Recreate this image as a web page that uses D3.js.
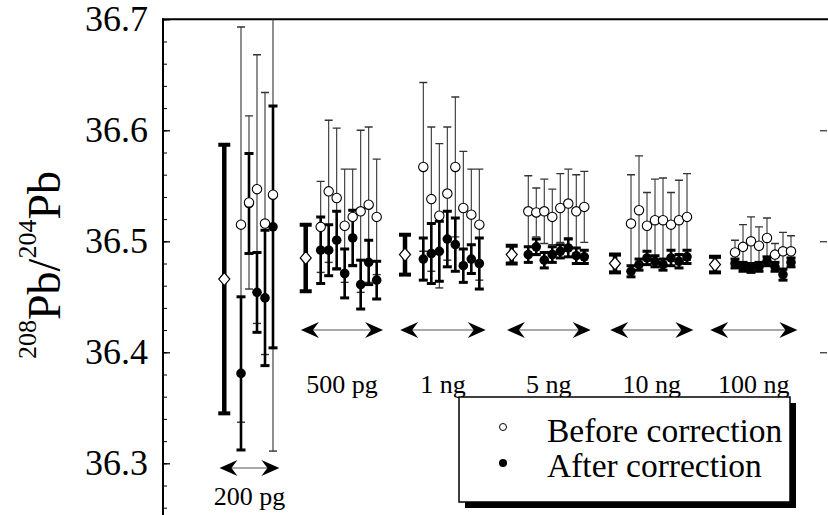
<!DOCTYPE html>
<html>
<head>
<meta charset="utf-8">
<script src="https://cdn.jsdelivr.net/npm/d3@7"></script>
<style>
  body { margin: 0; background: #fff; }
  svg { display: block; font-family: "Liberation Serif", "Times New Roman", serif; }
</style>
</head>
<body>
<svg id="chart" width="828" height="515"></svg>
<script>
// sample sizes along the run axis
var groups = ["200 pg", "500 pg", "1 ng", "5 ng", "10 ng", "100 ng"];
// run positions (run units) of the mean value and of the first measurement
var meanPos = [7.66, 17.84, 30.25, 43.59, 56.5, 69.0];
var firstRun = [9.75, 19.71, 32.54, 45.66, 58.5, 71.5];

// mean of each group (diamond) and its error
var meanVal = [36.466, 36.485, 36.488, 36.488, 36.480, 36.479];
var meanErr = [0.121, 0.030, 0.018, 0.008, 0.008, 0.007];

// before correction (open circles)
var beforeVal = [
  [36.515, 36.535, 36.547, 36.516, 36.542],
  [36.513, 36.545, 36.539, 36.514, 36.522, 36.527, 36.533, 36.522],
  [36.567, 36.538, 36.523, 36.543, 36.567, 36.530, 36.524, 36.515],
  [36.527, 36.526, 36.527, 36.522, 36.530, 36.534, 36.527, 36.531],
  [36.516, 36.528, 36.514, 36.519, 36.519, 36.515, 36.519, 36.522],
  [36.490, 36.495, 36.500, 36.496, 36.503, 36.488, 36.491, 36.491]
];
var beforeErr = [
  [0.178, 0.078, 0.121, 0.118, 0.231],
  [0.041, 0.064, 0.063, 0.051, 0.043, 0.073, 0.070, 0.052],
  [0.076, 0.065, 0.065, 0.060, 0.063, 0.051, 0.041, 0.050],
  [0.032, 0.022, 0.029, 0.025, 0.031, 0.031, 0.033, 0.032],
  [0.044, 0.049, 0.030, 0.037, 0.038, 0.029, 0.036, 0.039],
  [0.011, 0.020, 0.022, 0.017, 0.018, 0.010, 0.017, 0.014]
];

// after correction (filled circles)
var afterVal = [
  [36.381, 36.534, 36.454, 36.449, 36.513],
  [36.492, 36.492, 36.501, 36.471, 36.503, 36.461, 36.481, 36.465],
  [36.484, 36.489, 36.491, 36.502, 36.497, 36.478, 36.484, 36.480],
  [36.488, 36.495, 36.483, 36.488, 36.491, 36.494, 36.487, 36.486],
  [36.473, 36.479, 36.485, 36.482, 36.479, 36.485, 36.482, 36.486],
  [36.480, 36.477, 36.476, 36.477, 36.482, 36.477, 36.470, 36.481]
];
var afterErr = [
  [0.069, 0.045, 0.036, 0.061, 0.109],
  [0.030, 0.023, 0.026, 0.022, 0.025, 0.022, 0.020, 0.017],
  [0.019, 0.027, 0.027, 0.025, 0.024, 0.015, 0.013, 0.023],
  [0.007, 0.007, 0.007, 0.007, 0.006, 0.008, 0.007, 0.006],
  [0.005, 0.005, 0.006, 0.005, 0.005, 0.007, 0.006, 0.006],
  [0.004, 0.004, 0.004, 0.004, 0.004, 0.004, 0.005, 0.004]
];

var yTicks = [36.3, 36.4, 36.5, 36.6, 36.7];
var legendLabels = ["Before correction", "After correction"];

var svg = d3.select("#chart");
var left = 163, topY = 19.3, right = 828;

var x = d3.scaleLinear().domain([0, 83.125]).range([left, right]);
var y = d3.scaleLinear().domain([36.7, 36.3]).range([topY, 463.3]);

// axes
var minor = d3.range(36.24, 36.7001, 0.02);
svg.append("g").attr("transform", "translate(" + left + ",0)")
  .call(d3.axisLeft(y).tickValues(minor).tickSize(-4).tickFormat(""))
  .call(function(g) { g.select(".domain").remove(); });
svg.append("g").attr("transform", "translate(" + left + ",0)")
  .call(d3.axisLeft(y).tickValues(yTicks).tickSize(-7).tickPadding(15).tickFormat(d3.format(".1f")))
  .call(function(g) {
    g.select(".domain").remove();
    g.selectAll("line").attr("stroke-width", 1.3);
    g.selectAll("text").attr("font-size", 36).attr("font-family", "Liberation Serif, serif").attr("fill", "#000");
  });
svg.append("g").attr("transform", "translate(" + (right - 1) + ",0)")
  .call(d3.axisLeft(y).tickValues([36.4, 36.5, 36.6]).tickSize(7).tickFormat(""))
  .call(function(g) { g.select(".domain").remove(); });

svg.append("line").attr("x1", left).attr("x2", left).attr("y1", topY - 1).attr("y2", 515)
  .attr("stroke", "#000").attr("stroke-width", 2);
svg.append("line").attr("x1", left - 1).attr("x2", right).attr("y1", topY).attr("y2", topY)
  .attr("stroke", "#000").attr("stroke-width", 2);

// y title
var title = svg.append("text").attr("transform", "translate(60,265) rotate(-90)")
  .attr("text-anchor", "middle").attr("font-size", 46);
title.append("tspan").attr("font-size", 26).attr("dy", -24).text("208");
title.append("tspan").attr("dy", 24).text("Pb/");
title.append("tspan").attr("font-size", 26).attr("dy", -24).text("204");
title.append("tspan").attr("dy", 24).text("Pb");

var plot = svg.append("g");

function errBar(g, cx, v, e, w, capW, capS, col) {
  g.append("line").attr("x1", cx).attr("x2", cx).attr("y1", y(v - e)).attr("y2", y(v + e))
    .attr("stroke", col).attr("stroke-width", w);
  [v - e, v + e].forEach(function(t) {
    g.append("line").attr("x1", cx - capW).attr("x2", cx + capW).attr("y1", y(t)).attr("y2", y(t))
      .attr("stroke", col).attr("stroke-width", capS);
  });
}

svg.append("clipPath").attr("id", "plotclip").append("rect")
  .attr("x", left).attr("y", topY).attr("width", right - left).attr("height", 515 - topY);
plot.attr("clip-path", "url(#plotclip)");

groups.forEach(function(name, gi) {
  var runs = beforeVal[gi].map(function(d, i) { return firstRun[gi] + i; });
  runs.forEach(function(r, i) {
    errBar(plot, x(r), beforeVal[gi][i], beforeErr[gi][i], 1.1, 4, 1.4, "#333");
  });
  runs.forEach(function(r, i) {
    errBar(plot, x(r), afterVal[gi][i], afterErr[gi][i], 2.6, 4.5, 3, "#000");
  });
  errBar(plot, x(meanPos[gi]), meanVal[gi], meanErr[gi], 4.5, 6, 4, "#000");

  runs.forEach(function(r, i) {
    plot.append("circle").attr("cx", x(r)).attr("cy", y(afterVal[gi][i])).attr("r", 4.8)
      .attr("fill", "#000");
  });
  runs.forEach(function(r, i) {
    plot.append("circle").attr("cx", x(r)).attr("cy", y(beforeVal[gi][i])).attr("r", 4.7)
      .attr("fill", "#fff").attr("stroke", "#000").attr("stroke-width", 1.1);
  });
  var dx = x(meanPos[gi]), dy = y(meanVal[gi]);
  plot.append("path")
    .attr("d", "M" + dx + "," + (dy - 6.5) + "L" + (dx + 5.5) + "," + dy + "L" + dx + "," + (dy + 6.5) + "L" + (dx - 5.5) + "," + dy + "Z")
    .attr("fill", "#fff").attr("stroke", "#000").attr("stroke-width", 1.2);

  // range arrow and label
  var ax1 = x(meanPos[gi] - 0.6), ax2 = x(runs[runs.length - 1] + 0.8);
  var ay = gi === 0 ? 468 : 330;
  var ly = gi === 0 ? 505 : 393;
  svg.append("line").attr("x1", ax1 + 8).attr("x2", ax2 - 8).attr("y1", ay).attr("y2", ay)
    .attr("stroke", "#555").attr("stroke-width", 1.2);
  [[ax1, 1], [ax2, -1]].forEach(function(a) {
    var tx = a[0], s = a[1];
    svg.append("path")
      .attr("d", "M" + tx + "," + ay + "L" + (tx + s * 18) + "," + (ay - 8) + "L" + (tx + s * 12) + "," + ay +
        "L" + (tx + s * 18) + "," + (ay + 8) + "Z")
      .attr("fill", "#000");
  });
  svg.append("text").attr("x", (ax1 + ax2) / 2).attr("y", ly).attr("text-anchor", "middle")
    .attr("font-size", 26).text(name);
});

// legend
var lg = svg.append("g");
lg.append("rect").attr("x", 465).attr("y", 403).attr("width", 331).attr("height", 105).attr("fill", "#000");
lg.append("rect").attr("x", 459).attr("y", 397).attr("width", 331).attr("height", 105)
  .attr("fill", "#fff").attr("stroke", "#000").attr("stroke-width", 1.5);
lg.append("circle").attr("cx", 503).attr("cy", 427).attr("r", 3.5).attr("fill", "#fff")
  .attr("stroke", "#000").attr("stroke-width", 1);
lg.append("circle").attr("cx", 503).attr("cy", 463).attr("r", 4).attr("fill", "#000");
legendLabels.forEach(function(t, i) {
  lg.append("text").attr("x", 547).attr("y", 442 + i * 35).attr("font-size", 33.5).text(t);
});
</script>
</body>
</html>
